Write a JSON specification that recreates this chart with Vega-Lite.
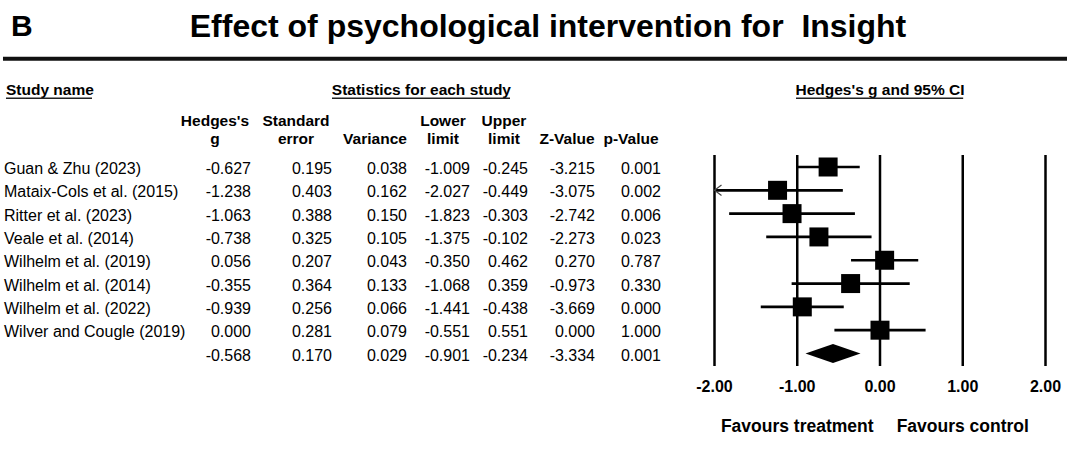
{
  "$schema": "https://vega.github.io/schema/vega-lite/v6.json",
  "width": 1067,
  "height": 468,
  "autosize": {"type": "fit", "contains": "padding"},
  "padding": 0,
  "background": "white",
  "config": {
    "view": {"stroke": null},
    "font": "Liberation Sans",
    "axis": {"disable": true},
    "text": {"font": "Liberation Sans", "fontSize": 16, "baseline": "middle", "color": "black"},
    "rule": {"color": "black"},
    "locale": {"number": {"decimal": ".", "thousands": ",", "grouping": [3], "currency": ["$", ""], "minus": "-"}}
  },
  "datasets": {
    "studies": [
      {"study": "Guan & Zhu (2023)", "type": "study", "g": -0.627, "se": 0.195, "var": 0.038, "lower": -1.009, "upper": -0.245, "z": -3.215, "p": 0.001},
      {"study": "Mataix-Cols et al. (2015)", "type": "study", "g": -1.238, "se": 0.403, "var": 0.162, "lower": -2.027, "upper": -0.449, "z": -3.075, "p": 0.002},
      {"study": "Ritter et al. (2023)", "type": "study", "g": -1.063, "se": 0.388, "var": 0.150, "lower": -1.823, "upper": -0.303, "z": -2.742, "p": 0.006},
      {"study": "Veale et al. (2014)", "type": "study", "g": -0.738, "se": 0.325, "var": 0.105, "lower": -1.375, "upper": -0.102, "z": -2.273, "p": 0.023},
      {"study": "Wilhelm et al. (2019)", "type": "study", "g": 0.056, "se": 0.207, "var": 0.043, "lower": -0.350, "upper": 0.462, "z": 0.270, "p": 0.787},
      {"study": "Wilhelm et al. (2014)", "type": "study", "g": -0.355, "se": 0.364, "var": 0.133, "lower": -1.068, "upper": 0.359, "z": -0.973, "p": 0.330},
      {"study": "Wilhelm et al. (2022)", "type": "study", "g": -0.939, "se": 0.256, "var": 0.066, "lower": -1.441, "upper": -0.438, "z": -3.669, "p": 0.000},
      {"study": "Wilver and Cougle (2019)", "type": "study", "g": 0.000, "se": 0.281, "var": 0.079, "lower": -0.551, "upper": 0.551, "z": 0.000, "p": 1.000},
      {"study": "Combined", "type": "summary", "g": -0.568, "se": 0.170, "var": 0.029, "lower": -0.901, "upper": -0.234, "z": -3.334, "p": 0.001}
    ],
    "ticks": [{"v": -2}, {"v": -1}, {"v": 0}, {"v": 1}, {"v": 2}]
  },
  "layer": [
    {
      "layer": [
        {
          "data": {"name": "studies"},
          "transform": [{"filter": "datum.type === 'study'"}],
          "mark": {"type": "text", "align": "left", "dy": 2},
          "encoding": {
            "x": {"datum": 0, "type": "quantitative", "scale": {"type": "linear", "domain": [0, 0.5, 1, 1.5, 2, 2.5, 3, 3.5, 4, 4.5, 5, 5.5, 6, 6.5, 7], "range": [4, 215, 251, 296, 332, 375, 407, 443, 470, 504, 528, 567, 595, 631, 661], "zero": false, "nice": false}, "axis": null},
            "y": {"field": "study", "type": "nominal", "axis": null, "scale": {"type": "point", "padding": 0, "range": [27.125, 423.4375], "domain": ["title", "rule", "gap", "head", "head1", "head2", "Guan & Zhu (2023)", "Mataix-Cols et al. (2015)", "Ritter et al. (2023)", "Veale et al. (2014)", "Wilhelm et al. (2019)", "Wilhelm et al. (2014)", "Wilhelm et al. (2022)", "Wilver and Cougle (2019)", "Combined", "axis", "gap2", "favours"]}},
            "text": {"field": "study"}
          }
        },
        {"data": {"name": "studies"}, "mark": {"type": "text", "align": "right", "dy": 2},
         "encoding": {"x": {"datum": 1, "type": "quantitative"}, "y": {"field": "study", "type": "nominal"}, "text": {"field": "g", "type": "quantitative", "format": ".3f"}}},
        {"data": {"name": "studies"}, "mark": {"type": "text", "align": "right", "dy": 2},
         "encoding": {"x": {"datum": 2, "type": "quantitative"}, "y": {"field": "study", "type": "nominal"}, "text": {"field": "se", "type": "quantitative", "format": ".3f"}}},
        {"data": {"name": "studies"}, "mark": {"type": "text", "align": "right", "dy": 2},
         "encoding": {"x": {"datum": 3, "type": "quantitative"}, "y": {"field": "study", "type": "nominal"}, "text": {"field": "var", "type": "quantitative", "format": ".3f"}}},
        {"data": {"name": "studies"}, "mark": {"type": "text", "align": "right", "dy": 2},
         "encoding": {"x": {"datum": 4, "type": "quantitative"}, "y": {"field": "study", "type": "nominal"}, "text": {"field": "lower", "type": "quantitative", "format": ".3f"}}},
        {"data": {"name": "studies"}, "mark": {"type": "text", "align": "right", "dy": 2},
         "encoding": {"x": {"datum": 5, "type": "quantitative"}, "y": {"field": "study", "type": "nominal"}, "text": {"field": "upper", "type": "quantitative", "format": ".3f"}}},
        {"data": {"name": "studies"}, "mark": {"type": "text", "align": "right", "dy": 2},
         "encoding": {"x": {"datum": 6, "type": "quantitative"}, "y": {"field": "study", "type": "nominal"}, "text": {"field": "z", "type": "quantitative", "format": ".3f"}}},
        {"data": {"name": "studies"}, "mark": {"type": "text", "align": "right", "dy": 2},
         "encoding": {"x": {"datum": 7, "type": "quantitative"}, "y": {"field": "study", "type": "nominal"}, "text": {"field": "p", "type": "quantitative", "format": ".3f"}}},
        {"data": {"values": [{}]}, "mark": {"type": "text", "align": "left", "fontWeight": "bold", "fontSize": 15.5, "dx": 2, "dy": -6.7},
         "encoding": {"x": {"datum": 0, "type": "quantitative"}, "y": {"datum": "head", "type": "nominal"}, "text": {"value": "Study name"}}},
        {"data": {"values": [{}]}, "mark": {"type": "rule", "strokeWidth": 1.5, "yOffset": 1.3, "color": "#222"},
         "encoding": {"x": {"datum": 0.0047, "type": "quantitative"}, "x2": {"datum": 0.2085}, "y": {"datum": "head", "type": "nominal"}}},
        {"data": {"values": [{}]}, "mark": {"type": "text", "align": "center", "fontWeight": "bold", "fontSize": 15.5, "dy": -6.7},
         "encoding": {"x": {"datum": 3.2, "type": "quantitative"}, "y": {"datum": "head", "type": "nominal"}, "text": {"value": "Statistics for each study"}}},
        {"data": {"values": [{}]}, "mark": {"type": "rule", "strokeWidth": 1.5, "yOffset": 1.3, "color": "#222"},
         "encoding": {"x": {"datum": 2, "type": "quantitative"}, "x2": {"datum": 4.625}, "y": {"datum": "head", "type": "nominal"}}},
        {"data": {"values": [{}]}, "mark": {"type": "text", "align": "center", "fontWeight": "bold", "fontSize": 15.5, "dy": 1},
         "encoding": {"x": {"datum": 0.5, "type": "quantitative"}, "y": {"datum": "head1", "type": "nominal"}, "text": {"value": "Hedges's"}}},
        {"data": {"values": [{}]}, "mark": {"type": "text", "align": "center", "fontWeight": "bold", "fontSize": 15.5, "dy": 1},
         "encoding": {"x": {"datum": 1.5, "type": "quantitative"}, "y": {"datum": "head1", "type": "nominal"}, "text": {"value": "Standard"}}},
        {"data": {"values": [{}]}, "mark": {"type": "text", "align": "center", "fontWeight": "bold", "fontSize": 15.5, "dy": 1},
         "encoding": {"x": {"datum": 3.5, "type": "quantitative"}, "y": {"datum": "head1", "type": "nominal"}, "text": {"value": "Lower"}}},
        {"data": {"values": [{}]}, "mark": {"type": "text", "align": "center", "fontWeight": "bold", "fontSize": 15.5, "dy": 1},
         "encoding": {"x": {"datum": 4.5, "type": "quantitative"}, "y": {"datum": "head1", "type": "nominal"}, "text": {"value": "Upper"}}},
        {"data": {"values": [{}]}, "mark": {"type": "text", "align": "center", "fontWeight": "bold", "fontSize": 15.5, "dy": -5},
         "encoding": {"x": {"datum": 0.5, "type": "quantitative"}, "y": {"datum": "head2", "type": "nominal"}, "text": {"value": "g"}}},
        {"data": {"values": [{}]}, "mark": {"type": "text", "align": "center", "fontWeight": "bold", "fontSize": 15.5, "dy": -5},
         "encoding": {"x": {"datum": 1.5, "type": "quantitative"}, "y": {"datum": "head2", "type": "nominal"}, "text": {"value": "error"}}},
        {"data": {"values": [{}]}, "mark": {"type": "text", "align": "center", "fontWeight": "bold", "fontSize": 15.5, "dy": -5},
         "encoding": {"x": {"datum": 2.5, "type": "quantitative"}, "y": {"datum": "head2", "type": "nominal"}, "text": {"value": "Variance"}}},
        {"data": {"values": [{}]}, "mark": {"type": "text", "align": "center", "fontWeight": "bold", "fontSize": 15.5, "dy": -5},
         "encoding": {"x": {"datum": 3.5, "type": "quantitative"}, "y": {"datum": "head2", "type": "nominal"}, "text": {"value": "limit"}}},
        {"data": {"values": [{}]}, "mark": {"type": "text", "align": "center", "fontWeight": "bold", "fontSize": 15.5, "dy": -5},
         "encoding": {"x": {"datum": 4.5, "type": "quantitative"}, "y": {"datum": "head2", "type": "nominal"}, "text": {"value": "limit"}}},
        {"data": {"values": [{}]}, "mark": {"type": "text", "align": "center", "fontWeight": "bold", "fontSize": 15.5, "dy": -5},
         "encoding": {"x": {"datum": 5.5, "type": "quantitative"}, "y": {"datum": "head2", "type": "nominal"}, "text": {"value": "Z-Value"}}},
        {"data": {"values": [{}]}, "mark": {"type": "text", "align": "center", "fontWeight": "bold", "fontSize": 15.5, "dy": -5},
         "encoding": {"x": {"datum": 6.5, "type": "quantitative"}, "y": {"datum": "head2", "type": "nominal"}, "text": {"value": "p-Value"}}}
      ]
    },
    {
      "layer": [
        {"data": {"name": "ticks"}, "mark": {"type": "rule", "strokeWidth": 2.5, "yOffset": -12, "y2Offset": 12.5},
         "encoding": {
           "x": {"field": "v", "type": "quantitative", "axis": null, "scale": {"type": "linear", "domain": [-2, 2], "range": [714.5, 1045.5], "clamp": true, "zero": false, "nice": false}},
           "y": {"datum": "Guan & Zhu (2023)", "type": "nominal"},
           "y2": {"datum": "Combined"}
         }},
        {"data": {"name": "ticks"}, "mark": {"type": "text", "fontWeight": "bold", "fontSize": 16, "align": "center", "dy": 9.9},
         "encoding": {"x": {"field": "v", "type": "quantitative"}, "y": {"datum": "axis", "type": "nominal"}, "text": {"field": "v", "type": "quantitative", "format": ".2f"}}},
        {"data": {"name": "studies"}, "transform": [{"filter": "datum.type === 'study'"}], "mark": {"type": "rule", "strokeWidth": 2.7},
         "encoding": {"x": {"field": "lower", "type": "quantitative"}, "x2": {"field": "upper"}, "y": {"field": "study", "type": "nominal"}}},
        {"data": {"name": "studies"}, "transform": [{"filter": "datum.lower < -2"}],
         "mark": {"type": "point", "shape": "M1,-0.75L0,0L1,0.75", "size": 196, "filled": false, "stroke": "#444", "strokeWidth": 1.2, "opacity": 1},
         "encoding": {"x": {"field": "lower", "type": "quantitative"}, "y": {"field": "study", "type": "nominal"}}},
        {"data": {"name": "studies"}, "transform": [{"filter": "datum.type === 'study'"}],
         "mark": {"type": "point", "shape": "square", "size": 361, "filled": true, "color": "black", "opacity": 1},
         "encoding": {"x": {"field": "g", "type": "quantitative"}, "y": {"field": "study", "type": "nominal"}}},
        {"data": {"name": "studies"}, "transform": [{"filter": "datum.type === 'summary'"}],
         "mark": {"type": "point", "shape": "M-1,0L0,-0.345L1,0L0,0.345Z", "size": 3025, "filled": true, "color": "black", "opacity": 1},
         "encoding": {"x": {"field": "g", "type": "quantitative"}, "y": {"field": "study", "type": "nominal"}}},
        {"data": {"values": [{}]}, "mark": {"type": "text", "align": "center", "fontWeight": "bold", "fontSize": 15.5, "dy": -6.7},
         "encoding": {"x": {"datum": 0, "type": "quantitative"}, "y": {"datum": "head", "type": "nominal"}, "text": {"value": "Hedges's g and 95% CI"}}},
        {"data": {"values": [{}]}, "mark": {"type": "rule", "strokeWidth": 1.5, "yOffset": 1.3, "color": "#222"},
         "encoding": {"x": {"datum": -1.015, "type": "quantitative"}, "x2": {"datum": 1.005}, "y": {"datum": "head", "type": "nominal"}}},
        {"data": {"values": [{}]}, "mark": {"type": "text", "align": "center", "fontWeight": "bold", "fontSize": 17.5, "dy": 3.3},
         "encoding": {"x": {"datum": -1, "type": "quantitative"}, "y": {"datum": "favours", "type": "nominal"}, "text": {"value": "Favours treatment"}}},
        {"data": {"values": [{}]}, "mark": {"type": "text", "align": "center", "fontWeight": "bold", "fontSize": 17.5, "dy": 3.3},
         "encoding": {"x": {"datum": 1, "type": "quantitative"}, "y": {"datum": "favours", "type": "nominal"}, "text": {"value": "Favours control"}}}
      ]
    },
    {
      "layer": [
        {"data": {"values": [{}]}, "mark": {"type": "text", "align": "left", "fontWeight": "bold", "fontSize": 30},
         "encoding": {"x": {"datum": 0.0103, "type": "quantitative", "axis": null, "scale": {"type": "linear", "domain": [0, 1], "range": [0, 1067], "zero": false, "nice": false}}, "y": {"datum": "title", "type": "nominal"}, "text": {"value": "B"}}},
        {"data": {"values": [{}]}, "mark": {"type": "text", "align": "center", "fontWeight": "bold", "fontSize": 32},
         "encoding": {"x": {"datum": 0.5136, "type": "quantitative"}, "y": {"datum": "title", "type": "nominal"}, "text": {"value": "Effect of psychological intervention for \u00a0Insight"}}},
        {"data": {"values": [{}]}, "mark": {"type": "rule", "strokeWidth": 4, "yOffset": 8.4, "color": "#111"},
         "encoding": {"x": {"datum": 0.0028, "type": "quantitative"}, "x2": {"datum": 1}, "y": {"datum": "rule", "type": "nominal"}}}
      ]
    }
  ],
  "resolve": {"scale": {"x": "independent"}}
}
